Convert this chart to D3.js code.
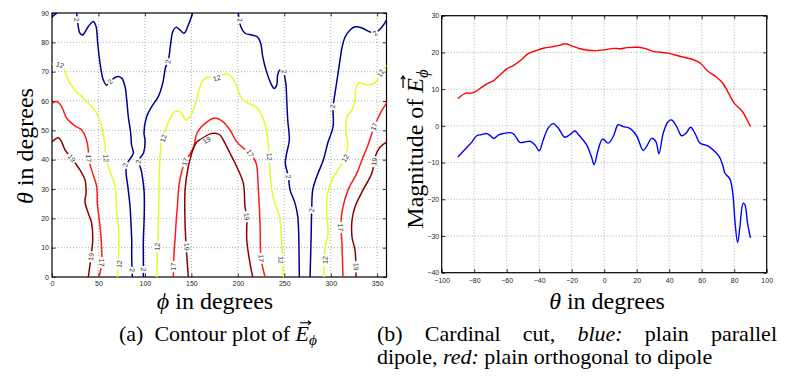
<!DOCTYPE html>
<html><head><meta charset="utf-8">
<script src="https://cdn.jsdelivr.net/npm/d3@7"></script>
<style>body{margin:0;background:#fff}svg{display:block}</style>
</head><body>
<svg id="c" width="785" height="378"></svg>
<script>
// ---------------- DATA ----------------
// (a) contour lines, points are [phi (deg), theta (deg)]
const blueCorner = [[0,88.5],[2.5,89.3],[5.4,90]];
const blueA = [[26.6,90],[27.7,86.5],[30.1,83.1],[33.0,82.5],[39.1,85.4],[44.5,87.1],[47.4,85.4],[49.2,79.7],[51.7,72.9],[55.2,67.2],[58.8,65.4],[64.3,67.2],[69.7,68.3],[75.0,67.8],[78.6,64.9],[80.4,60.4],[82.1,54.7],[84.7,49.0],[85.6,45.0],[87.5,42.2],[81.8,39.2],[79.7,36.5],[82.1,29.7],[84.0,24.0],[85.0,18.4],[85.8,12.6],[85.8,6.9],[86.4,0]];
const blueB = [[151.4,90],[146.7,85.9],[142.1,83.1],[137.8,84.2],[133.5,85.1],[129.9,83.6],[127.8,79.7],[124.9,73.4],[122.4,71.7],[119.2,66.1],[114.4,61.5],[107.3,58.1],[101.9,54.7],[99.0,49.0],[100.1,46.7],[98.3,42.2],[94.7,40.5],[94.0,38.9],[96.6,35.5],[99.0,29.7],[99.4,24.0],[99.0,18.4],[98.3,12.6],[98.3,6.9],[98.3,0]];
const blueC = [[200.5,90],[203.1,85.4],[207.7,83.1],[215.0,82.5],[221.0,81.9],[224.6,79.7],[226.8,75.1],[230.3,70.6],[235.4,66.1],[239.0,64.3],[241.9,65.5],[242.9,68.9],[245.4,70.6],[248.3,70.3],[251.6,66.1],[252.6,60.4],[253.7,53.5],[255.4,46.7],[252.6,42.2],[251.1,38.8],[254.4,34.2],[256.2,29.7],[261.6,25.1],[264.5,20.6],[265.5,14.9],[265.9,6.9],[266.2,0]];
const blueD = [[360,87.6],[355.2,85.3],[347.7,83.2],[342.3,83.5],[333.7,84.9],[326.1,85.3],[320.8,84.2],[315.4,81.8],[312.2,78.4],[310.0,74.0],[306.8,67.2],[304.6,62.7],[302.5,58.0],[302.5,51.2],[297.1,46.0],[292.0,39.9],[284.9,34.2],[280.6,29.7],[279.5,22.8],[278.8,12.6],[277.7,0]];
const yellowA = [[0,72.6],[4.3,72.5],[12.2,71.7],[15.8,68.3],[22.9,64.3],[32.0,61.5],[40.9,58.7],[48.1,55.8],[52.4,52.4],[55.2,48.4],[57.0,45.0],[58.1,40.5],[62.4,35.9],[67.1,31.9],[68.9,27.4],[69.6,21.7],[71.4,17.2],[72.1,12.6],[71.4,6.9],[70.3,0]];
const yellowB = [[112.7,0],[113.3,6.9],[113.8,12.6],[114.4,18.3],[114.9,24.0],[115.5,35.4],[116.3,41.0],[118.1,46.7],[119.2,47.8],[123.5,51.3],[127.0,54.1],[132.4,56.4],[137.8,56.4],[141.3,54.7],[144.2,53.5],[148.5,54.7],[152.8,57.5],[157.2,62.7],[161.5,66.5],[166.5,68.1],[173.6,68.1],[182.7,68.9],[188.0,69.2],[193.4,68.3],[198.8,64.9],[204.2,60.9],[211.3,59.2],[218.5,58.3],[225.7,55.2],[230.0,51.3],[232.2,46.7],[233.6,41.0],[234.7,35.4],[236.5,29.7],[240.0,25.1],[244.7,20.6],[246.5,16.0],[247.6,10.3],[249.0,0]];
const yellowC = [[360,72.0],[354.1,69.6],[347.7,66.2],[339.1,65.5],[330.5,66.2],[327.2,64.4],[326.1,60.4],[322.9,56.9],[317.5,54.6],[316.5,49.1],[318.6,45.0],[315.4,40.6],[307.9,36.5],[301.4,33.1],[296.0,27.3],[296.0,20.5],[297.1,15.0],[293.9,10.2],[292.8,0]];
const redA = [[0,59.2],[5.1,59.8],[10.4,58.1],[15.8,54.1],[24.8,51.5],[32.0,50.1],[36.6,47.3],[39.1,43.3],[39.1,40.5],[43.8,35.4],[48.1,30.8],[48.8,25.1],[50.9,19.4],[52.7,13.7],[53.5,4.9],[50.6,0]];
const redB = [[130.6,0],[131.3,8.1],[132.4,12.6],[133.5,18.3],[134.9,24.0],[137.0,32.0],[139.6,35.9],[143.2,39.3],[148.5,41.9],[152.8,44.7],[156.1,49.1],[166.8,52.9],[175.5,54.2],[184.1,52.9],[191.6,50.1],[198.1,46.4],[205.6,44.0],[213.1,42.3],[219.6,38.9],[222.1,29.7],[223.9,18.3],[225.0,6.4],[229.3,0]];
const redC = [[360,59.3],[355.2,56.9],[349.8,53.5],[344.4,49.1],[340.1,45.0],[334.8,40.9],[328.3,35.5],[318.6,29.7],[313.2,23.9],[311.1,19.4],[312.2,10.2],[313.2,0]];
const darkA = [[0,46.1],[6.8,47.5],[10.4,46.1],[14.0,43.3],[21.2,40.5],[30.1,36.5],[35.5,33.1],[36.6,28.5],[35.5,25.7],[39.1,21.7],[42.7,18.3],[43.8,12.6],[42.0,6.9],[39.1,0]];
const darkB = [[146.7,0],[144.2,11.5],[143.2,18.3],[143.2,29.7],[146.7,37.6],[150.4,42.2],[155.8,46.0],[162.5,47.4],[170.1,48.8],[175.5,49.0],[180.8,48.4],[184.4,46.7],[191.6,42.2],[198.8,37.6],[205.9,32.0],[207.7,24.0],[209.6,20.6],[209.6,12.6],[213.1,4.7],[216.0,0]];
const darkC = [[360,46.0],[353.1,44.3],[347.7,40.9],[344.4,35.5],[334.8,29.7],[326.1,23.9],[322.9,19.4],[322.9,13.6],[326.1,9.2],[327.2,0]];

const contourLevels = [2, 12, 17, 19];
// contour label anchor points [phi, theta]
const labels2 = [[26.6,87.7],[62.4,66.6],[124.9,73.4],[78.6,38.2],[93,39.3],[86.4,2.3],[98.3,2.6],[202.4,87.6],[249.7,70.0],[254.4,34.2],[347.7,83.1],[302.1,58.1],[279.5,22.8]];
const labels12 = [[8.6,72.3],[58.1,40.5],[72.4,4.4],[119.8,47.3],[113.3,10.3],[177.3,67.8],[233.9,41.0],[246.2,5.8],[353.8,69.5],[315.4,40.5],[293.9,5.8]];
const labels17 = [[39.1,40.5],[53.5,4.9],[130.6,3.5],[143.2,39.3],[213.1,42.2],[225.0,6.4],[346.6,51.3],[310.7,16.9]];
const labels19 = [[21.2,40.5],[42.0,6.9],[166.5,46.7],[145.0,10.3],[209.6,20.6],[346.9,39.3],[327.2,3.5]];

const phiTicks = [0,50,100,150,200,250,300,350];
const thetaTicks = [0,10,20,30,40,50,60,70,80,90];

// (b) cardinal cut
const cutThetaRed = [-90,-88,-85,-82,-79,-76,-72,-68,-64,-60,-56,-51,-47,-42,-37,-31,-28,-25,-23,-20,-15,-10,-5,0,6,10,14,21,25,30,39,47,55,59,64,69,73,77,80,85,88,90];
const cutRed = [7.4,8.2,8.9,8.9,9.4,10.3,11.5,12.3,13.9,15.5,16.4,18.0,19.6,20.5,21.2,21.6,21.9,22.3,22.3,21.8,21.0,20.6,20.5,20.7,21.1,21.0,21.3,21.4,21.1,20.3,19.8,18.9,18.0,17.1,14.8,13.3,11.6,8.5,6.2,3.9,1.6,-0.2];
const cutThetaBlue = [-90,-85,-81.6,-78.5,-75.5,-72.4,-70.3,-67.9,-65.2,-62.2,-57,-55,-51.9,-48.8,-45.7,-42.6,-40,-37.5,-34.5,-31.4,-28.3,-24.2,-21.1,-18,-16,-10.8,-7.8,-6.2,-3.7,-1,2.5,5.6,8.6,11.7,15.8,19.9,24,26.1,29.2,31.8,33.7,36.3,39.4,41.5,44.6,47.6,50.3,53.2,55.8,58.9,62,64,68.1,70.8,72.9,74.3,77.4,79.2,80.4,82.1,83.5,85.5,86.6,88.2,90];
const cutBlue = [-8.5,-6.1,-4.5,-2.7,-2.4,-2.1,-2.6,-3.4,-2.5,-2.1,-1.9,-2.6,-4.5,-4.4,-4.2,-5.2,-6.8,-3.8,-0.6,0.6,-0.6,-3.1,-2.4,-1.4,-2.3,-5.2,-8.5,-10.6,-6.5,-3.6,-4.7,-2.9,0.3,-0.2,-0.7,-2.7,-6.7,-5.6,-3.4,-4.3,-7.6,-2.0,1.2,1.6,-0.2,-2.7,-2.0,-0.4,-2.0,-4.7,-5.2,-5.5,-7.0,-8.4,-10.6,-12.9,-14.5,-18.6,-25.6,-31.8,-27.5,-21.1,-21.5,-26.5,-30.5];
const cutXTicks = [-100,-80,-60,-40,-20,0,20,40,60,80,100];
const cutYTicks = [-40,-30,-20,-10,0,10,20,30];

// ---------------- DRAWING ----------------
const SANS = "Liberation Sans, Arial, Helvetica, sans-serif";
const SERIF = "Liberation Serif, 'Times New Roman', 'DejaVu Serif', serif";
const svg = d3.select("#c");

const levelColor = d3.scaleOrdinal(contourLevels, ["#00008f", "#dcff2a", "#ff1a1a", "#8a0000"]);
const linesByLevel = new Map([
  [2, [blueCorner, blueA, blueB, blueC, blueD]],
  [12, [yellowA, yellowB, yellowC]],
  [17, [redA, redB, redC]],
  [19, [darkA, darkB, darkC]]
]);
const labelsByLevel = new Map([[2, labels2], [12, labels12], [17, labels17], [19, labels19]]);

const xPhi = d3.scaleLinear([0, 360], [52, 386.5]);
const yTh = d3.scaleLinear([0, 90], [277, 13]);
const xCut = d3.scaleLinear([-100, 100], [441.7, 766.7]);
const yCut = d3.scaleLinear([-40, 30], [272.7, 15.7]);

function drawAxes(g, x, y, xt, yt, padX, padY) {
  const [x0, x1] = x.range(), [y0, y1] = y.range();
  const grid = g.append("g").attr("stroke", "#9a9a9a").attr("stroke-width", 0.8).attr("stroke-dasharray", "1,2");
  grid.selectAll(".gx").data(xt.filter(v => x(v) > x0 + 1 && x(v) < x1 - 1)).join("line")
    .attr("x1", d => x(d)).attr("x2", d => x(d)).attr("y1", y0).attr("y2", y1);
  grid.selectAll(".gy").data(yt.filter(v => y(v) < y0 - 1 && y(v) > y1 + 1)).join("line")
    .attr("y1", d => y(d)).attr("y2", d => y(d)).attr("x1", x0).attr("x2", x1);
  const style = sel => {
    sel.select(".domain").remove();
    sel.selectAll("line").attr("stroke", "#000").attr("stroke-width", 0.8);
    sel.selectAll("text").attr("fill", "#262626");
    sel.attr("font-family", SANS).attr("font-size", 7);
  };
  g.append("g").attr("transform", `translate(0,${y0})`)
    .call(d3.axisBottom(x).tickValues(xt).tickSize(-3.5).tickSizeOuter(0).tickPadding(padX)).call(style);
  g.append("g").attr("transform", `translate(0,${y1})`)
    .call(d3.axisTop(x).tickValues(xt).tickSize(-3.5).tickSizeOuter(0).tickFormat("")).call(style);
  g.append("g").attr("transform", `translate(${x0},0)`)
    .call(d3.axisLeft(y).tickValues(yt).tickSize(-3.5).tickSizeOuter(0).tickPadding(padY)).call(style);
  g.append("g").attr("transform", `translate(${x1},0)`)
    .call(d3.axisRight(y).tickValues(yt).tickSize(-3.5).tickSizeOuter(0).tickFormat("")).call(style);
  g.append("rect").attr("x", x0).attr("y", y1).attr("width", x1 - x0).attr("height", y0 - y1)
    .attr("fill", "none").attr("stroke", "#000").attr("stroke-width", 1.2);
}

// ---------- (a) contour plot ----------
const gA = svg.append("g");
svg.append("defs").append("clipPath").attr("id", "clipA").append("rect")
  .attr("x", xPhi(0)).attr("y", yTh(90)).attr("width", xPhi(360) - xPhi(0)).attr("height", yTh(0) - yTh(90));
const gridA = gA.append("g");
const contourG = gA.append("g").attr("clip-path", "url(#clipA)");
const lineA = d3.line().x(d => xPhi(d[0])).y(d => yTh(d[1])).curve(d3.curveCatmullRom.alpha(0.5));
contourLevels.forEach(lv => {
  contourG.selectAll(null).data(linesByLevel.get(lv)).join("path")
    .attr("d", lineA).attr("fill", "none").attr("stroke", levelColor(lv)).attr("stroke-width", 1.5)
    .attr("stroke-linejoin", "round").attr("stroke-linecap", "round");
});
function labelAngle(lines, p) {
  let best = 0, bd = Infinity;
  const px = xPhi(p[0]), py = yTh(p[1]);
  lines.forEach(L => {
    for (let i = 0; i < L.length - 1; i++) {
      const ax = xPhi(L[i][0]), ay = yTh(L[i][1]), bx = xPhi(L[i + 1][0]), by = yTh(L[i + 1][1]);
      const dx = bx - ax, dy = by - ay;
      const t = Math.max(0, Math.min(1, ((px - ax) * dx + (py - ay) * dy) / (dx * dx + dy * dy || 1)));
      const d = Math.hypot(ax + t * dx - px, ay + t * dy - py);
      if (d < bd) { bd = d; best = Math.atan2(dy, dx) * 180 / Math.PI; }
    }
  });
  if (best > 90) best -= 180;
  if (best <= -90) best += 180;
  return best;
}
const labG = gA.append("g");
contourLevels.forEach(lv => {
  const txt = String(lv);
  labG.selectAll(null).data(labelsByLevel.get(lv)).join("g")
    .attr("transform", d => `translate(${xPhi(d[0])},${yTh(d[1])}) rotate(${labelAngle(linesByLevel.get(lv), d)})`)
    .each(function () {
      const s = d3.select(this);
      const w = txt.length * 4.3 + 2.5;
      s.append("rect").attr("x", -w / 2).attr("y", -3.2).attr("width", w).attr("height", 6.4).attr("fill", "#fff");
      s.append("text").text(txt).attr("text-anchor", "middle").attr("dy", "0.35em")
        .attr("font-family", SANS).attr("font-size", 7).attr("fill", "#333");
    });
});
drawAxes(gridA, xPhi, yTh, phiTicks, thetaTicks, 4, 3);
gA.raise();

// ---------- (b) cardinal cut ----------
const gB = svg.append("g");
drawAxes(gB, xCut, yCut, cutXTicks, cutYTicks, 5, 2.5);
const lineB = d3.line().x(d => xCut(d[0])).y(d => yCut(d[1])).curve(d3.curveCatmullRom.alpha(0.5));
gB.append("path").datum(d3.zip(cutThetaRed, cutRed)).attr("d", lineB)
  .attr("fill", "none").attr("stroke", "#ff0000").attr("stroke-width", 1.4).attr("stroke-linejoin", "round");
gB.append("path").datum(d3.zip(cutThetaBlue, cutBlue)).attr("d", lineB)
  .attr("fill", "none").attr("stroke", "#0000ff").attr("stroke-width", 1.4).attr("stroke-linejoin", "round");

// ---------- math-style text ----------
function mathText(x, y, rot, size, anchor, parts) {
  const g = svg.append("g").attr("transform", `translate(${x},${y}) rotate(${rot})`);
  const t = g.append("text").attr("font-family", SERIF).attr("font-size", size)
    .attr("text-anchor", anchor).attr("fill", "#000");
  parts.forEach(p => {
    const ts = t.append("tspan").text(p.t);
    if (p.it) ts.attr("font-style", "italic");
    if (p.sub) ts.attr("font-size", size * 0.7).attr("dy", size * 0.2);
  });
  let idx = 0;
  const node = t.node();
  parts.forEach(p => {
    if (p.arrow) {
      const s = node.getStartPositionOfChar(idx), e = node.getEndPositionOfChar(idx);
      const ax0 = s.x + size * 0.2, ax1 = e.x + size * 0.08, ay = s.y - size * 0.83;
      g.append("line").attr("x1", ax0).attr("x2", ax1).attr("y1", ay).attr("y2", ay)
        .attr("stroke", "#000").attr("stroke-width", size * 0.05);
      g.append("path").attr("d", `M${ax1 - size * 0.13},${ay - size * 0.09}L${ax1},${ay}L${ax1 - size * 0.13},${ay + size * 0.09}`)
        .attr("fill", "none").attr("stroke", "#000").attr("stroke-width", size * 0.05);
    }
    idx += p.t.length;
  });
  return { g, t };
}
mathText(33, 146, -90, 24, "middle", [{ t: "θ", it: true }, { t: " in degrees" }]);
mathText(215, 309, 0, 24, "middle", [{ t: "ϕ", it: true }, { t: " in degrees" }]);
mathText(607, 309, 0, 24, "middle", [{ t: "θ", it: true }, { t: " in degrees" }]);
mathText(423, 149, -90, 24, "middle", [{ t: "Magnitude of " }, { t: "E", it: true, arrow: true }, { t: "ϕ", it: true, sub: true }]);
mathText(218, 341, 0, 22, "middle", [{ t: "(a)\u00a0 Contour plot of " }, { t: "E", it: true, arrow: true }, { t: "ϕ", it: true, sub: true }]);
const cap1 = mathText(377, 341, 0, 22, "start", [{ t: "(b) Cardinal cut, " }, { t: "blue:", it: true }, { t: " plain parallel" }]);
{
  const nat = cap1.t.node().getComputedTextLength();
  const spaces = 5;
  cap1.t.attr("word-spacing", Math.max(0, (400 - nat) / spaces));
}
mathText(377, 364, 0, 22, "start", [{ t: "dipole, " }, { t: "red:", it: true }, { t: " plain orthogonal to dipole" }]);
</script>
</body></html>
